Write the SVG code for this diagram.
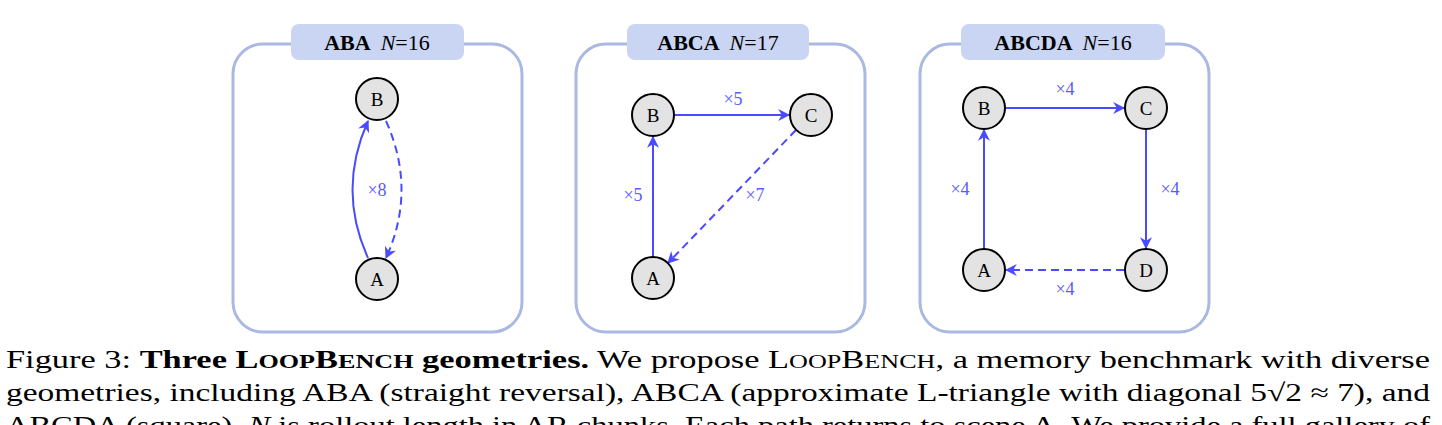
<svg xmlns="http://www.w3.org/2000/svg" width="1442" height="425" viewBox="0 0 1442 425">
<style>
.box{fill:#fff;stroke:#aab9e2;stroke-width:3}
.pill{fill:#c9d5f2}
.node{fill:#e3e3e3;stroke:#000;stroke-width:2}
.nt{font-family:"Liberation Serif",serif;font-size:19px;text-anchor:middle;dominant-baseline:central}
.ttl{font-family:"Liberation Serif",serif;font-size:22px;text-anchor:middle}
.e{fill:none;stroke:#4a4aff;stroke-width:2;marker-end:url(#ah)}
.d{stroke-dasharray:8 5}
.el{font-family:"Liberation Serif",serif;font-size:18px;fill:#5a5aff;text-anchor:middle;dominant-baseline:central}
.cap{font-family:"Liberation Serif",serif;font-size:25px}
</style>
<defs><marker id="ah" viewBox="0 0 10 10" refX="9" refY="5" markerWidth="6" markerHeight="6" orient="auto"><path d="M0,0 L10,5 L0,10 L3,5z" fill="#4a4aff"/></marker></defs>
<rect width="1442" height="425" fill="#fff"/>
<g id="panel-aba">
<rect class="box" x="233" y="44" width="289" height="288" rx="30"/>
<rect class="pill" x="291" y="24" width="173" height="36" rx="8"/>
<text class="ttl" x="377" y="50"><tspan font-weight="bold">ABA</tspan><tspan dx="10" font-style="italic">N</tspan>=16</text>
</g>
<g id="panel-abca">
<rect class="box" x="576" y="44" width="289" height="288" rx="30"/>
<rect class="pill" x="627" y="24" width="182" height="36" rx="8"/>
<text class="ttl" x="718" y="50"><tspan font-weight="bold">ABCA</tspan><tspan dx="10" font-style="italic">N</tspan>=17</text>
</g>
<g id="panel-abcda">
<rect class="box" x="920" y="44" width="289" height="288" rx="30"/>
<rect class="pill" x="961" y="24" width="204" height="36" rx="8"/>
<text class="ttl" x="1063" y="50"><tspan font-weight="bold">ABCDA</tspan><tspan dx="10" font-style="italic">N</tspan>=16</text>
</g>
<g id="connectors">
<path class="e" d="M368,258 Q337,190 368,121"/>
<path class="e d" d="M386,121 Q417,190 386,258"/>
<text class="el" x="377" y="190">×8</text>
<path class="e" d="M653,257 L653,137"/>
<path class="e" d="M674,115 L789,115"/>
<path class="e d" d="M796,130 L668,263"/>
<text class="el" x="733" y="99">×5</text>
<text class="el" x="633" y="195">×5</text>
<text class="el" x="755" y="195">×7</text>
<path class="e" d="M984,249 L984,130"/>
<path class="e" d="M1005,108 L1124,108"/>
<path class="e" d="M1146,129 L1146,248"/>
<path class="e d" d="M1124,270 L1006,270"/>
<text class="el" x="1065" y="89">×4</text>
<text class="el" x="960" y="189">×4</text>
<text class="el" x="1170" y="189">×4</text>
<text class="el" x="1065" y="289">×4</text>
</g>
<g id="node-aba-B"><circle class="node" cx="377" cy="99" r="21"/><text class="nt" x="377" y="99">B</text></g>
<g id="node-aba-A"><circle class="node" cx="377" cy="279" r="21"/><text class="nt" x="377" y="279">A</text></g>
<g id="node-abca-B"><circle class="node" cx="653" cy="115" r="21"/><text class="nt" x="653" y="115">B</text></g>
<g id="node-abca-C"><circle class="node" cx="811" cy="115" r="21"/><text class="nt" x="811" y="115">C</text></g>
<g id="node-abca-A"><circle class="node" cx="653" cy="278" r="21"/><text class="nt" x="653" y="278">A</text></g>
<g id="node-abcda-B"><circle class="node" cx="984" cy="108" r="21"/><text class="nt" x="984" y="108">B</text></g>
<g id="node-abcda-C"><circle class="node" cx="1146" cy="108" r="21"/><text class="nt" x="1146" y="108">C</text></g>
<g id="node-abcda-A"><circle class="node" cx="984" cy="270" r="21"/><text class="nt" x="984" y="270">A</text></g>
<g id="node-abcda-D"><circle class="node" cx="1146" cy="270" r="21"/><text class="nt" x="1146" y="270">D</text></g>
<g id="caption">
<text class="cap" x="6" y="368" textLength="1424" lengthAdjust="spacingAndGlyphs">Figure 3: <tspan font-weight="bold">Three L<tspan font-size="19">OOP</tspan>B<tspan font-size="19">ENCH</tspan> geometries.</tspan> We propose L<tspan font-size="19">OOP</tspan>B<tspan font-size="19">ENCH</tspan>, a memory benchmark with diverse</text>
<text class="cap" x="6" y="401" textLength="1424" lengthAdjust="spacingAndGlyphs">geometries, including ABA (straight reversal), ABCA (approximate L-triangle with diagonal 5√2 ≈ 7), and</text>
<text class="cap" x="6" y="434" textLength="1424" lengthAdjust="spacingAndGlyphs">ABCDA (square). <tspan font-style="italic">N</tspan> is rollout length in AR chunks. Each path returns to scene A. We provide a full gallery of</text>
</g>
</svg>
